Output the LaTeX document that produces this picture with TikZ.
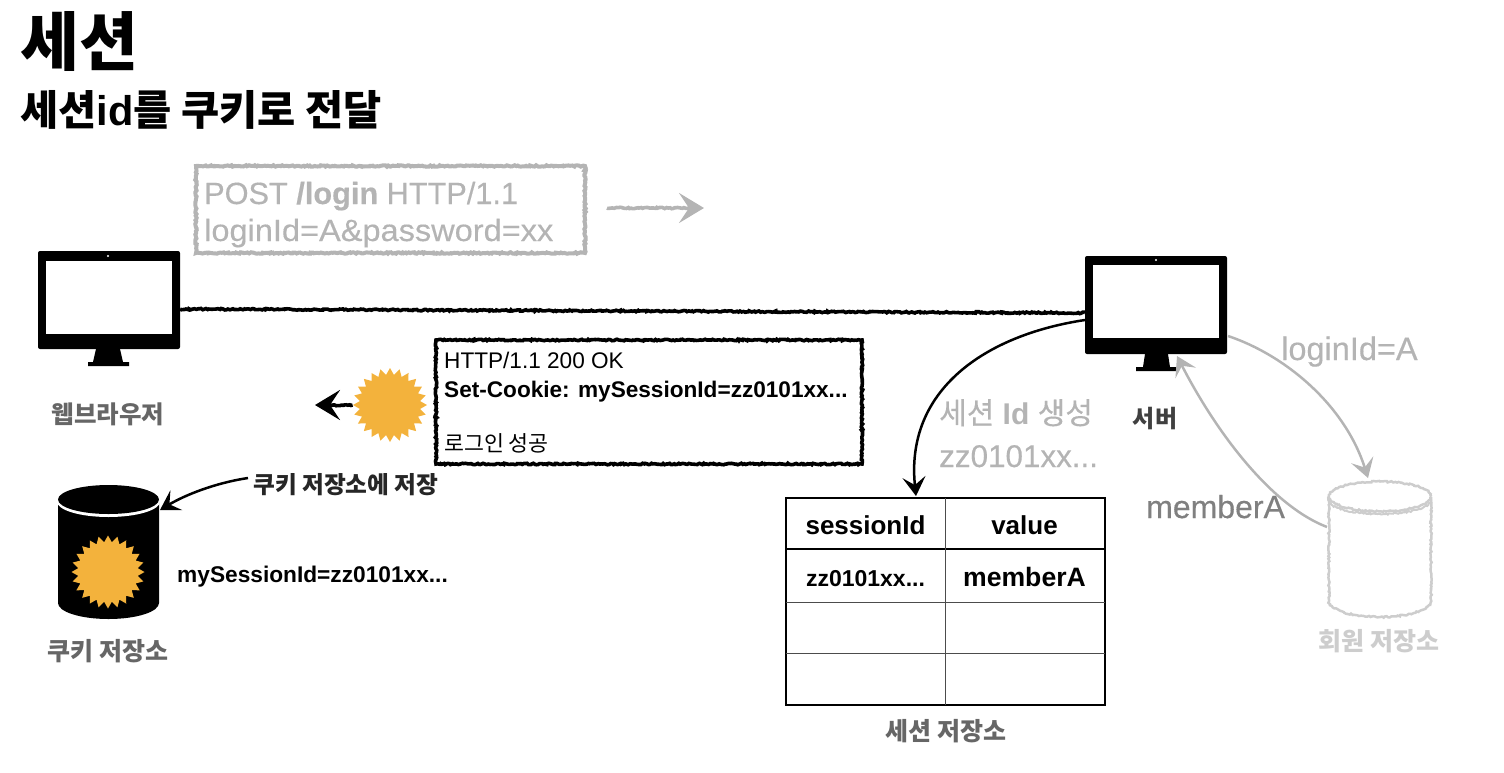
\documentclass[tikz,border=0pt]{standalone}
\usepackage{fontspec}
\setmainfont{Liberation Sans}
\newfontfamily\kr{Noto Sans CJK KR}
\newfontfamily\med[FakeBold=0.35]{Liberation Sans}
\newfontfamily\medwide[FakeBold=0.35,FakeStretch=1.06]{Liberation Sans}
\newfontfamily\krmed[FakeBold=0.35]{Noto Sans CJK KR}
\usetikzlibrary{arrows.meta,decorations.pathmorphing,shapes.geometric}

\newcommand{\sz}[1]{\fontsize{#1}{#1}\selectfont}

\definecolor{cookie}{HTML}{F3B23C}
\definecolor{faded}{HTML}{B4B4B4}
\definecolor{fainter}{HTML}{CDCDCD}
\definecolor{caption}{HTML}{666666}

\tikzset{
    sketch/.style={decorate, decoration={random steps, segment length=1.6pt, amplitude=0.75pt}},
    tip/.style={-{Stealth[length=19pt, width=23pt, inset=8pt]}},
    bigtip/.style={-{Stealth[length=25pt, width=30pt, inset=10pt]}},
    cookiestar/.style={star, star points=24, star point ratio=1.22, fill=cookie, inner sep=0pt, minimum size=74pt},
    monitor/.style={fill=black, rounded corners=2pt, inner sep=0pt, minimum width=142pt, minimum height=98pt},
    screen/.style={fill=white, inner sep=0pt, minimum width=126pt, minimum height=73pt},
    label/.style={inner sep=0pt, anchor=base},
    leftlabel/.style={inner sep=0pt, anchor=base west},
}

\begin{document}
\begin{tikzpicture}[x=1pt, y=-1pt]
    \useasboundingbox (0,0) rectangle (1504,772);

    \coordinate (lineL) at (180,309);
    \coordinate (lineR) at (1085,313);
    \coordinate (newL) at (1085,320);
    \coordinate (newT) at (916,496);
    \coordinate (postL) at (607,208);
    \coordinate (postM) at (690,208);
    \coordinate (postR) at (704,208);
    \coordinate (saveL) at (248,478);
    \coordinate (saveT) at (160,510);
    \coordinate (findL) at (1228,336);
    \coordinate (findT) at (1368,478);
    \coordinate (backL) at (1327,527);
    \coordinate (backT) at (1177,356);

    % titles
    \node[leftlabel] (title) at (20,65) {\kr\bfseries\sz{64}세션};
    \node[leftlabel] (subtitle) at (20,125) {\sz{41.5}\bfseries{\kr 세션}id{\kr 를 쿠키로 전달}};

    % login request
    \draw[faded, line width=4pt, sketch] (196,166) rectangle (585,253);
    \node[leftlabel, faded] (request1) at (204,204) {\sz{30.7}\med POST \textbf{/login} HTTP/1.1};
    \node[leftlabel, faded] (request2) at (204,241) {\sz{30.7}\medwide loginId=A\&password=xx};
    \draw[faded, line width=3.6pt, sketch] (postL) -- (postM);
    \draw[faded, line width=3.6pt, bigtip] (postM) -- (postR);

    % browser
    \node[monitor] (browser) at (109,300) {};
    \node[screen] (browserscreen) at (108.5,297) {};
    \fill[white] (108,256) circle (1.2pt);
    \fill (96,349) -- (120,349) -- (123,362) -- (129,362) -- (129,366) -- (88,366) -- (88,362) -- (93,362) -- cycle;
    \node[label, caption] (browsername) at (108,423) {\kr\bfseries\sz{24.5}웹브라우저};

    % server
    \node[monitor] (server) at (1156,305) {};
    \node[screen] (serverscreen) at (1156,301.5) {};
    \fill[white] (1156,260) circle (1.2pt);
    \fill (1145,354) -- (1168,354) -- (1170,367) -- (1177,367) -- (1177,371) -- (1136,371) -- (1136,367) -- (1143,367) -- cycle;
    \node[label, black!75] (servername) at (1155,427) {\kr\bfseries\sz{24}서버};

    \draw[line width=3.6pt, sketch] (lineL) -- (lineR);

    % response
    \draw[line width=3.6pt, sketch] (436,340) rectangle (862,464);
    \node[leftlabel] (response1) at (444,368) {\sz{22.6}HTTP/1.1 200 OK};
    \node[leftlabel] (response2) at (444,397) {\sz{22.6}\bfseries Set-Cookie: mySessionId=zz0101xx...};
    \node[leftlabel] (response3) at (444,451) {\kr\sz{21.7}로그인 성공};
    \node[cookiestar] (cookie) at (390,405) {};
    \coordinate (cookieM) at (330,405);
    \coordinate (cookieT) at (315,405);
    \draw[line width=3.6pt, sketch] (cookie.west) -- (cookieM);
    \draw[line width=3.6pt, bigtip] (cookieM) -- (cookieT);

    % cookie store
    \fill (58,500) -- (58,603) arc[start angle=180, end angle=0, x radius=50.5, y radius=16] -- (159,500) -- cycle;
    \fill[white] (108.5,501.5) ellipse [x radius=51.5, y radius=15.5];
    \fill (108.5,499.5) ellipse [x radius=50.5, y radius=14.5];
    \node[cookiestar, minimum size=73pt] (storedcookie) at (108,572) {};
    \node[label, caption] (cookiestore) at (108,660) {\kr\bfseries\sz{25}쿠키 저장소};
    \node[leftlabel, black!85] (savetext) at (253,493) {\kr\bfseries\sz{23.7}쿠키 저장소에 저장};
    \node[leftlabel] (storedvalue) at (177,582) {\sz{22.7}\bfseries mySessionId=zz0101xx...};
    \draw[line width=2.5pt, tip] (saveL) .. controls (215,483) and (185,495) .. (saveT);

    % session id
    \draw[line width=2.5pt, tip] (newL) .. controls (985,335) and (905,390) .. (newT);
    \node[leftlabel, faded] (newid1) at (939,424) {\sz{30}{\krmed 세션} \textbf{Id} {\krmed 생성}};
    \node[leftlabel, faded] (newid2) at (939,467) {\sz{31.4}\med zz0101xx...};

    % session table
    \draw[line width=2.2pt] (786,498) rectangle (1105,705);
    \draw[line width=2pt] (786,549) -- (1105,549);
    \foreach \y in {602,653}
        \draw[line width=1pt, black!70] (786,\y) -- (1105,\y);
    \draw[line width=1pt, black!70] (945,498) -- (945,705);
    \node[label] (keyhead) at (865.5,534) {\sz{26}\bfseries sessionId};
    \node[label] (valuehead) at (1024.5,534) {\sz{26}\bfseries value};
    \node[label] (keycell) at (865.5,586) {\sz{23}\bfseries zz0101xx...};
    \node[label] (valuecell) at (1024.5,586) {\sz{26.6}\bfseries memberA};
    \node[label, caption] (sessionstore) at (946,740) {\kr\bfseries\sz{25}세션 저장소};

    % member store
    \draw[fainter, line width=2.5pt, sketch] (1329,497) -- (1329,601) arc[start angle=180, end angle=0, x radius=51, y radius=16] -- (1431,497);
    \draw[fainter, line width=2.5pt, sketch] (1380,496.5) ellipse [x radius=51, y radius=15];
    \draw[fainter, line width=2pt, sketch] (1329,500) arc[start angle=180, end angle=0, x radius=51, y radius=14];
    \node[label, fainter] (memberstore) at (1379,650) {\kr\bfseries\sz{25}회원 저장소};

    % member lookup
    \draw[faded, line width=2.5pt, tip] (findL) .. controls (1285,355) and (1345,405) .. (findT);
    \draw[faded, line width=2.5pt, tip] (backL) .. controls (1270,505) and (1215,430) .. (backT);
    \node[leftlabel, faded] (loginidtext) at (1281,360) {\sz{32.5}\med loginId=A};
    \node[leftlabel, black!50] (membertext) at (1146,518) {\sz{32}\med memberA};
\end{tikzpicture}
\end{document}
